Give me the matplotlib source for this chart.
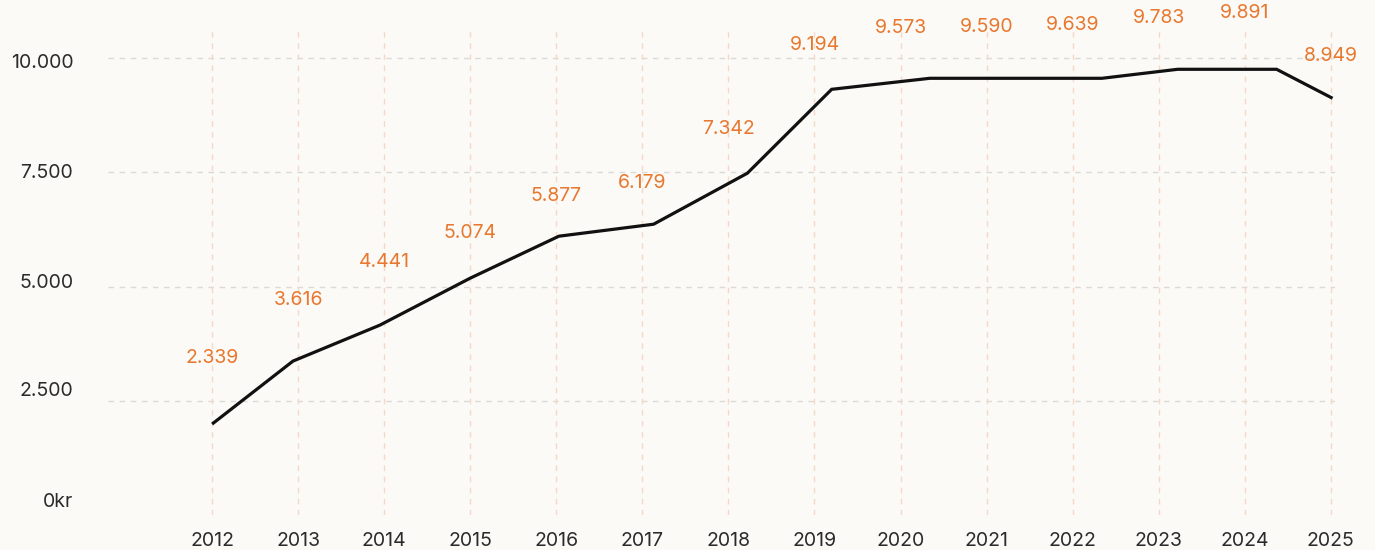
import matplotlib.pyplot as plt
from matplotlib.ticker import FixedLocator
from matplotlib.transforms import ScaledTranslation

# Label values per year
years = [2012, 2013, 2014, 2015, 2016, 2017, 2018,
         2019, 2020, 2021, 2022, 2023, 2024, 2025]
values = [2339, 3616, 4441, 5074, 5877, 6179, 7342,
          9194, 9573, 9590, 9639, 9783, 9891, 8949]
value_labels = ["2.339", "3.616", "4.441", "5.074", "5.877", "6.179", "7.342",
                "9.194", "9.573", "9.590", "9.639", "9.783", "9.891", "8.949"]

# The drawn line (it does not sit exactly on the labels)
line_x = [2012.0, 2012.94, 2013.95, 2015.0, 2016.03, 2017.13, 2018.22,
          2019.2, 2020.34, 2022.34, 2023.22, 2024.37, 2025.02]
line_y = [1990, 3368, 4155, 5183, 6101, 6363, 7479,
          9315, 9556, 9556, 9753, 9753, 9119]

y_ticks = [0, 2500, 5000, 7500, 10000]
y_tick_labels = ["0kr", "2.500", "5.000", "7.500", "10.000"]

bg = "#FBFAF7"
orange = "#E8782F"
text_col = "#2b2b2b"

plt.rcParams['font.family'] = ['Inter', 'DejaVu Sans']

fig = plt.figure(figsize=(13.75, 5.5), dpi=100, facecolor=bg)
ax = fig.add_axes([0.0785, 0.0636, 0.8925, 0.8891], facecolor=bg)

ax.set_xlim(2010.79, 2025.05)
ax.set_ylim(0, 10700)

# grid
for y in y_ticks[1:]:
    ax.axhline(y, color="#DCDAD6", lw=1, ls=(0, (4, 4)), zorder=1)
for yr in years:
    ax.axvline(yr, color="#F6D8C6", lw=1, ls=(0, (4, 4)), zorder=1)

ax.plot(line_x, line_y, color="#111111", lw=2.3, solid_joinstyle="miter",
        solid_capstyle="butt", zorder=3, clip_on=False)

for yr, v, lab in zip(years, values, value_labels):
    ax.annotate(lab, (yr, v), xytext=(0, 36), textcoords="offset points",
                ha="center", va="center", color=orange, fontsize=14,
                annotation_clip=False)

ax.xaxis.set_major_locator(FixedLocator(years))
ax.set_xticklabels([str(y) for y in years])
ax.yaxis.set_major_locator(FixedLocator(y_ticks))
ax.set_yticklabels(y_tick_labels)

ax.tick_params(axis="x", length=0, pad=12, labelsize=14, labelcolor=text_col)
ax.tick_params(axis="y", length=0, pad=25, labelsize=14, labelcolor=text_col)
for s in ax.spines.values():
    s.set_visible(False)

# the y labels sit a little off their grid lines in the original
for lbl, dy in zip(ax.get_yticklabels(), [15, 12, 6, 1, -3]):
    lbl.set_transform(lbl.get_transform() + ScaledTranslation(0, dy / 100, fig.dpi_scale_trans))

fig.savefig("out.png", dpi=100, facecolor=bg)
